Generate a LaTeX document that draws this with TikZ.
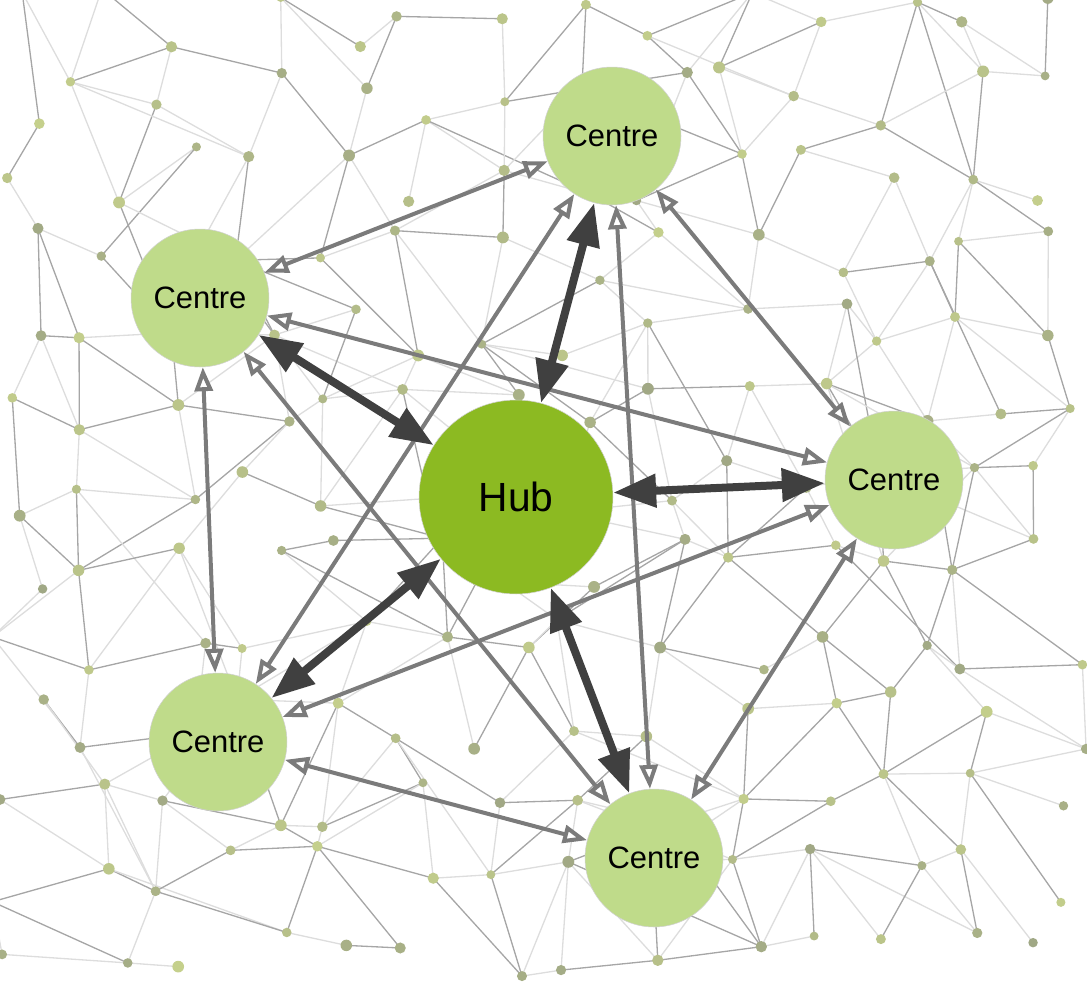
\documentclass[tikz,border=0pt]{standalone}
\usepackage{fontspec}
\setmainfont{Liberation Sans}
\usetikzlibrary{arrows.meta}
\definecolor{hubgreen}{HTML}{8CBA22}
\definecolor{centregreen}{HTML}{BFDB8A}
\definecolor{darkarrow}{HTML}{404040}
\definecolor{thinarrow}{HTML}{7B7B7B}
\definecolor{dotlight}{HTML}{C5D08C}
\definecolor{dotdark}{HTML}{A0A785}
\definecolor{linedark}{HTML}{A6A6A6}
\definecolor{linelight}{HTML}{DDDDDD}
\newcommand\meshedge[2]{%
  \pgfmathtruncatemacro\rCol{rnd*100}%
  \ifnum\rCol<45 \draw[mesh,linedark] (#1)--(#2);\else\draw[mesh,linelight] (#1)--(#2);\fi}
\begin{document}
\begin{tikzpicture}[x=0.02cm,y=-0.02cm,
  centre/.style={circle, fill=centregreen, draw=black!18, line width=0.3pt, minimum size=2.76cm, inner sep=0pt, font=\fontsize{17.6}{20}\selectfont},
  hub/.style={circle, fill=hubgreen, draw=black!18, line width=0.3pt, minimum size=3.88cm, inner sep=0pt, font=\fontsize{23.2}{26}\selectfont},
  spoke/.style={darkarrow, line width=0.16cm, {Triangle[length=0.86cm,width=0.64cm]}-{Triangle[length=0.86cm,width=0.64cm]}},
  link/.style={thinarrow, line width=0.08cm, {Triangle[fill=white,length=0.48cm,width=0.36cm]}-{Triangle[fill=white,length=0.48cm,width=0.36cm]}},
  mesh/.style={line width=0.75pt},
]
\useasboundingbox (0,0) rectangle (1087,987);
\begin{scope}
\clip (0,0) rectangle (1087,987);
\pgfmathsetseed{24681}
\foreach \i in {0,...,13}{\foreach \j in {0,...,12}{
  \pgfmathsetmacro\px{\i*80+20+rand*30}
  \pgfmathsetmacro\py{\j*78+18+rand*30}
  \coordinate (g-\i-\j) at (\px,\py);
}}
\foreach \i in {0,...,13}{\foreach \j in {0,...,12}{
  \pgfmathtruncatemacro\ip{\i+1}
  \pgfmathtruncatemacro\ipp{\i+2}
  \pgfmathtruncatemacro\jp{\j+1}
  \pgfmathtruncatemacro\jpp{\j+2}
  \ifnum\i<13
    \pgfmathtruncatemacro\rA{rnd*100}
    \ifnum\rA<72 \meshedge{g-\i-\j}{g-\ip-\j}\fi
  \fi
  \ifnum\j<12
    \pgfmathtruncatemacro\rB{rnd*100}
    \ifnum\rB<66 \meshedge{g-\i-\j}{g-\i-\jp}\fi
  \fi
  \ifnum\i<13 \ifnum\j<12
    \pgfmathtruncatemacro\rC{rnd*100}
    \ifnum\rC<45 \meshedge{g-\i-\j}{g-\ip-\jp}\else\ifnum\rC<85 \meshedge{g-\ip-\j}{g-\i-\jp}\fi\fi
  \fi\fi
  \ifnum\i<12 \ifnum\j<12
    \pgfmathtruncatemacro\rD{rnd*100}
    \ifnum\rD<16 \meshedge{g-\i-\j}{g-\ipp-\jp}\fi
  \fi\fi
  \ifnum\i<13 \ifnum\j<11
    \pgfmathtruncatemacro\rE{rnd*100}
    \ifnum\rE<12 \meshedge{g-\i-\j}{g-\ip-\jpp}\fi
  \fi\fi
}}
\foreach \i in {0,...,13}{\foreach \j in {0,...,12}{
  \pgfmathtruncatemacro\rM{rnd*100}
  \pgfmathsetmacro\rR{2.5+rnd*0.9}
  \fill[dotlight!\rM!dotdark] (g-\i-\j) circle[radius=\rR pt];
}}
\end{scope}
\node[hub] (hub) at (516,497) {Hub};
\node[centre] (top) at (612,136) {Centre};
\node[centre] (lt) at (200,298) {Centre};
\node[centre] (rt) at (894,480) {Centre};
\node[centre] (bl) at (218,742) {Centre};
\node[centre] (bt) at (654,858) {Centre};
\draw[link] (lt) -- (top);
\draw[link] (lt) -- (rt);
\draw[link] (lt) -- (bl);
\draw[link] (lt) -- (bt);
\draw[link] (top) -- (bl);
\draw[link] (top) -- (bt);
\draw[link] (top) -- (rt);
\draw[link] (rt) -- (bl);
\draw[link] (rt) -- (bt);
\draw[link] (bl) -- (bt);
\draw[spoke] (hub) -- (top);
\draw[spoke] (hub) -- (lt);
\draw[spoke] (hub) -- (rt);
\draw[spoke] (hub) -- (bl);
\draw[spoke] (hub) -- (bt);
\end{tikzpicture}
\end{document}
